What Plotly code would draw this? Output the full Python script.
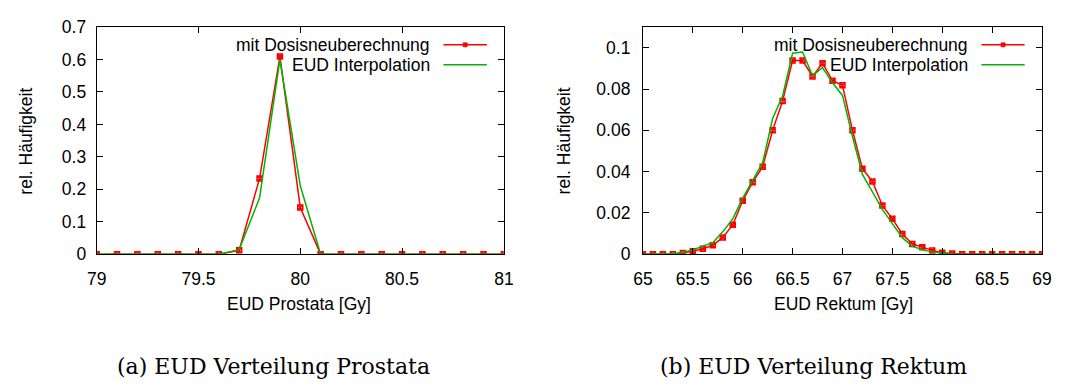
import plotly.graph_objects as go

# ---------------- data ----------------
# Prostata (left)
x_prostata = [79.0, 79.1, 79.2, 79.3, 79.4, 79.5, 79.6, 79.7, 79.8, 79.9, 80.0,
              80.1, 80.2, 80.3, 80.4, 80.5, 80.6, 80.7, 80.8, 80.9, 81.0]
y_prostata_dosis = [0, 0, 0, 0, 0, 0, 0, 0.012, 0.233, 0.609, 0.144,
                    0, 0, 0, 0, 0, 0, 0, 0, 0, 0]
y_prostata_interp = [0, 0, 0, 0, 0, 0, 0, 0.014, 0.173, 0.600, 0.211,
                     0, 0, 0, 0, 0, 0, 0, 0, 0, 0]

# Rektum (right)
x_rektum = [65.0, 65.1, 65.2, 65.3, 65.4, 65.5, 65.6, 65.7, 65.8, 65.9,
            66.0, 66.1, 66.2, 66.3, 66.4, 66.5, 66.6, 66.7, 66.8, 66.9,
            67.0, 67.1, 67.2, 67.3, 67.4, 67.5, 67.6, 67.7, 67.8, 67.9,
            68.0, 68.1, 68.2, 68.3, 68.4, 68.5, 68.6, 68.7, 68.8, 68.9, 69.0]
y_rektum_dosis = [0, 0, 0, 0, 0.0006, 0.0014, 0.0026, 0.0043, 0.0081, 0.0142,
                  0.0259, 0.0348, 0.0424, 0.0600, 0.0742, 0.0938, 0.0938, 0.0861, 0.0925, 0.0840,
                  0.0818, 0.0600, 0.0414, 0.0352, 0.0236, 0.0171, 0.0098, 0.0049, 0.0034, 0.0018,
                  0.0007, 0.0003, 0, 0, 0, 0, 0, 0, 0, 0, 0]
y_rektum_interp = [0, 0, 0, 0.0002, 0.0009, 0.0020, 0.0039, 0.0055, 0.0108, 0.0171,
                   0.0271, 0.0355, 0.0443, 0.0657, 0.0766, 0.0973, 0.0979, 0.0864, 0.0904, 0.0830,
                   0.0769, 0.0570, 0.0386, 0.0302, 0.0217, 0.0148, 0.0080, 0.0038, 0.0022, 0.0010,
                   0.0004, 0.0001, 0, 0, 0, 0, 0, 0, 0, 0, 0]

series_names = ["mit Dosisneuberechnung", "EUD Interpolation"]
colors = ["#ff0000", "#00b400"]

left_xticks = [79, 79.5, 80, 80.5, 81]
left_yticks = [0, 0.1, 0.2, 0.3, 0.4, 0.5, 0.6, 0.7]
right_xticks = [65, 65.5, 66, 66.5, 67, 67.5, 68, 68.5, 69]
right_yticks = [0, 0.02, 0.04, 0.06, 0.08, 0.1]

x_titles = ["EUD Prostata [Gy]", "EUD Rektum [Gy]"]
y_title = "rel. Häufigkeit"
captions = ["(a) EUD Verteilung Prostata", "(b) EUD Verteilung Rektum"]

# ---------------- layout helpers ----------------
W, H = 1069, 392
def px(x):
    return x / W
def py(y):
    return 1 - y / H

SANS = "Liberation Sans, Arial, sans-serif"
SERIF = "DejaVu Serif, serif"
FS = 17.5

fig = go.Figure()

marker = dict(symbol="square-x-open", size=5, color=colors[0],
              line=dict(color=colors[0], width=1.5))

fig.add_trace(go.Scatter(x=x_prostata, y=y_prostata_dosis, mode="lines+markers",
                         line=dict(color=colors[0], width=1.5), marker=marker,
                         xaxis="x", yaxis="y", name=series_names[0]))
fig.add_trace(go.Scatter(x=x_prostata, y=y_prostata_interp, mode="lines",
                         line=dict(color=colors[1], width=1.5),
                         xaxis="x", yaxis="y", name=series_names[1]))
fig.add_trace(go.Scatter(x=x_rektum, y=y_rektum_dosis, mode="lines+markers",
                         line=dict(color=colors[0], width=1.5), marker=marker,
                         xaxis="x2", yaxis="y2", name=series_names[0]))
fig.add_trace(go.Scatter(x=x_rektum, y=y_rektum_interp, mode="lines",
                         line=dict(color=colors[1], width=1.5),
                         xaxis="x2", yaxis="y2", name=series_names[1]))

ydom = [py(257.3), py(18.0)]
axis_common = dict(showline=True, linecolor="black", linewidth=1, mirror="ticks",
                   ticks="inside", ticklen=6, tickcolor="black", tickwidth=1,
                   showgrid=False, zeroline=False,
                   tickfont=dict(family=SANS, size=FS, color="black"))

fig.update_layout(
    width=W, height=H,
    margin=dict(l=0, r=0, t=0, b=0),
    paper_bgcolor="white", plot_bgcolor="white",
    showlegend=False,
    xaxis=dict(domain=[px(88.3), px(503.3)], range=[79, 81], tickvals=left_xticks,
               ticktext=[str(v) for v in left_xticks], anchor="y",
               ticklabelstandoff=9, **axis_common),
    yaxis=dict(domain=ydom, range=[0, 0.7], tickvals=left_yticks,
               ticktext=[("%g" % v) for v in left_yticks], anchor="x",
               ticklabelstandoff=6, **axis_common),
    xaxis2=dict(domain=[px(645.0), px(1051.7)], range=[65, 69], tickvals=right_xticks,
                ticktext=[("%g" % v) for v in right_xticks], anchor="y2",
                ticklabelstandoff=9, **axis_common),
    yaxis2=dict(domain=ydom, range=[0, 0.11], tickvals=right_yticks,
                ticktext=[("%g" % v) for v in right_yticks], anchor="x2",
                ticklabelstandoff=8, **axis_common),
)

annotations = []
shapes = []

# axis titles
for cx, t in zip([294.7, 849.0], x_titles):
    annotations.append(dict(x=px(cx), y=py(310), xref="paper", yref="paper", text=t,
                            showarrow=False, xanchor="center", yanchor="middle",
                            font=dict(family=SANS, size=FS, color="black")))
for cx in [16, 565]:
    annotations.append(dict(x=px(cx), y=py(138), xref="paper", yref="paper", text=y_title,
                            showarrow=False, xanchor="center", yanchor="middle", textangle=-90,
                            font=dict(family=SANS, size=FS, color="black")))
# captions
for lx, t in zip([107, 660], captions):
    annotations.append(dict(x=px(lx), y=py(376), xref="paper", yref="paper", text=t,
                            showarrow=False, xanchor="left", yanchor="middle",
                            font=dict(family=SERIF, size=22, color="black")))

# legends (text right, sample on the right)
for text_right, l0, l1 in [(430, 441.7, 486.0), (978, 990.0, 1034.0)]:
    for i, (rowy, name) in enumerate(zip([36.7, 57.7], series_names)):
        annotations.append(dict(x=px(text_right), y=py(rowy), xref="paper", yref="paper",
                                text=name, showarrow=False, xanchor="right", yanchor="middle",
                                font=dict(family=SANS, size=FS, color="black")))
        shapes.append(dict(type="line", xref="paper", yref="paper",
                           x0=px(l0), x1=px(l1), y0=py(rowy), y1=py(rowy),
                           line=dict(color=colors[i], width=1.5)))
    mx = (l0 + l1) / 2
    shapes.append(dict(type="rect", xref="paper", yref="paper",
                       x0=px(mx - 2), x1=px(mx + 2), y0=py(36.7 - 2), y1=py(36.7 + 2),
                       fillcolor=colors[0], line=dict(color=colors[0], width=1)))

fig.update_layout(annotations=annotations, shapes=shapes)
fig.write_html("out.html")
